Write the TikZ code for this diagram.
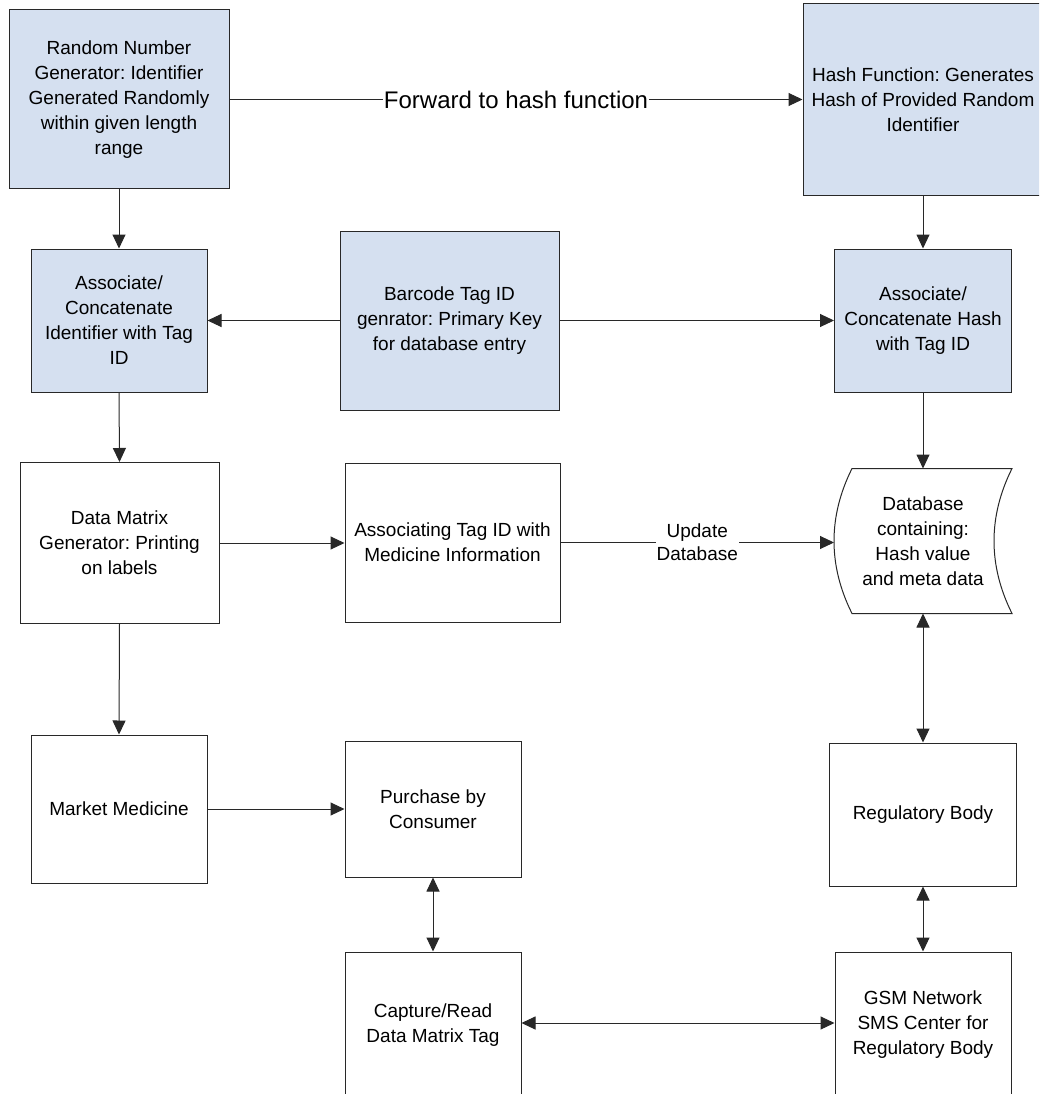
\documentclass[tikz,border=0pt]{standalone}
\usepackage{fontspec}
\setmainfont{Liberation Sans}
\frenchspacing
\usetikzlibrary{arrows.meta,calc}
\definecolor{boxblue}{RGB}{213,224,240}
\definecolor{linegray}{RGB}{40,40,40}
\tikzset{
  box/.style={draw=linegray, line width=1pt, rectangle, align=center, inner sep=2pt,
    font=\fontsize{19}{25}\selectfont},
  bluebox/.style={box, fill=boxblue},
  whitebox/.style={box, fill=white},
  conn/.style={draw=linegray, line width=1pt, -{Triangle[length=14pt,width=13pt]}},
  dconn/.style={draw=linegray, line width=1pt, {Triangle[length=14pt,width=13pt]}-{Triangle[length=14pt,width=13pt]}},
  lbl/.style={fill=white, inner sep=1pt, align=center}
}
\begin{document}
\begin{tikzpicture}[x=1pt,y=-1pt]
\useasboundingbox (0,0) rectangle (1039,1094);
\clip (0,0) rectangle (1039,1094);
\fill[white] (0,0) rectangle (1039,1094);

% row 1
\node[bluebox, minimum width=220pt, minimum height=179pt] (rng) at (119,99.5)
  {Random Number\\Generator: Identifier\\Generated Randomly\\within given length\\range};
\node[bluebox, minimum width=240pt, minimum height=191pt] (hash) at (923,99.5)
  {Hash Function: Generates\\Hash of Provided Random\\Identifier};

% row 2
\node[bluebox, minimum width=176pt, minimum height=143pt] (associd) at (119,320.5)
  {Associate/\\Concatenate\\Identifier with Tag\\ID};
\node[bluebox, minimum width=219pt, minimum height=179pt] (barcode) at (449.5,320.5)
  {Barcode Tag ID\\genrator: Primary Key\\for database entry};
\node[bluebox, minimum width=177pt, minimum height=143pt] (assochash) at (923,320.5)
  {Associate/\\Concatenate Hash\\with Tag ID};

% row 3
\node[whitebox, minimum width=199pt, minimum height=161pt] (dm) at (119.5,543)
  {Data Matrix\\Generator: Printing\\on labels};
\node[whitebox, minimum width=215pt, minimum height=159pt] (assoctag) at (452.5,542.5)
  {Associating Tag ID with\\Medicine Information};
\node[box, draw=none, minimum width=177pt, minimum height=144pt] (db) at (923,541)
  {Database\\containing:\\Hash value\\and meta data};
\draw[draw=linegray, line width=1pt]
  ($(db.north west)+(18,0)$) -- (db.north east)
  .. controls ($(db.north east)+(-24,48)$) and ($(db.south east)+(-24,-48)$) .. (db.south east)
  -- ($(db.south west)+(18,0)$)
  .. controls ($(db.south west)+(-6,-48)$) and ($(db.north west)+(-6,48)$) .. ($(db.north west)+(18,0)$) -- cycle;

% row 4
\node[whitebox, minimum width=176pt, minimum height=148pt] (market) at (119,809)
  {Market Medicine};
\node[whitebox, minimum width=176pt, minimum height=136pt] (purchase) at (433,809)
  {Purchase by\\Consumer};
\node[whitebox, minimum width=187pt, minimum height=143pt] (reg) at (923,814.5)
  {Regulatory Body};

% row 5
\node[whitebox, minimum width=176pt, minimum height=146pt] (capture) at (433,1025)
  {Capture/Read\\Data Matrix Tag};
\node[whitebox, minimum width=176pt, minimum height=146pt] (gsm) at (923,1025)
  {GSM Network\\SMS Center for\\Regulatory Body};

% connectors
\draw[conn] (rng.east) -- node[lbl, font=\fontsize{24}{28}\selectfont] {Forward to hash function} (hash.west);
\draw[conn] (rng.south) -- (associd.north);
\draw[conn] (barcode.west) -- (barcode.west -| associd.east);
\draw[conn] (barcode.east) -- (barcode.east -| assochash.west);
\draw[conn] (hash.south) -- (assochash.north);
\draw[conn] (associd.south) -- (dm.north);
\draw[conn] (dm.east) -- (dm.east -| assoctag.west);
\draw[conn] (assoctag.east) -- node[lbl, pos=0.5, font=\fontsize{19}{23}\selectfont] {Update\\Database} (assoctag.east -| db.west);
\draw[conn] (assochash.south) -- (db.north);
\draw[conn] (dm.south) -- (market.north);
\draw[conn] (market.east) -- (purchase.west);
\draw[dconn] (db.south) -- (reg.north);
\draw[dconn] (purchase.south) -- (capture.north);
\draw[dconn] (reg.south) -- (gsm.north);
\draw[dconn] ($(capture.east)+(0,-2)$) -- ($(gsm.west)+(0,-2)$);
\end{tikzpicture}
\end{document}
